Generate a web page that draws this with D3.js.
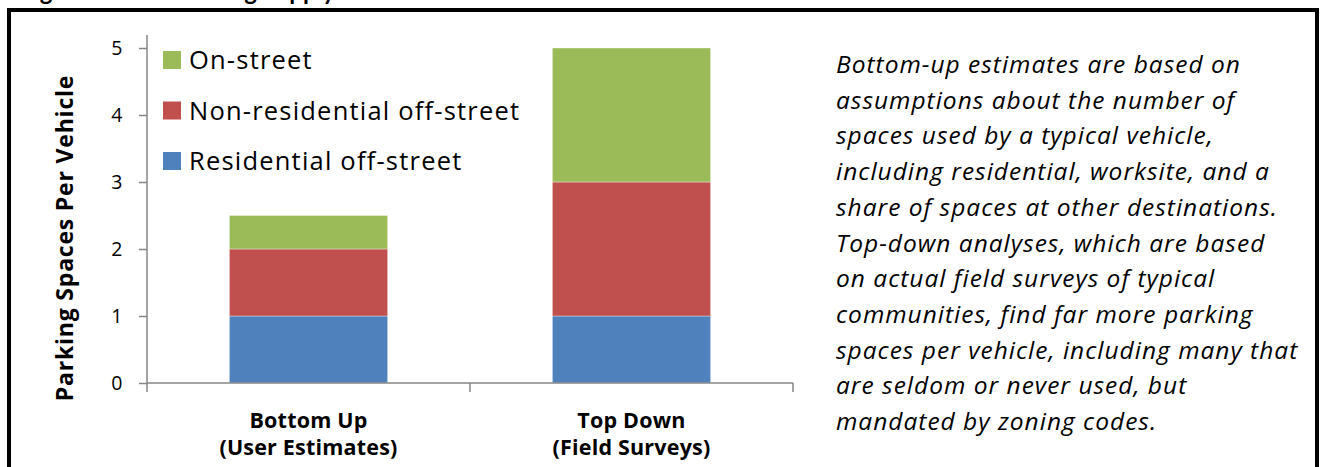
<!DOCTYPE html>
<html>
<head>
<meta charset="utf-8">
<script src="https://cdn.jsdelivr.net/npm/d3@7"></script>
<style>
  html, body { margin: 0; padding: 0; background: #fff; }
  svg { display: block; font-family: "Open Sans", Lato, sans-serif; }
</style>
</head>
<body>
<svg id="chart" width="1321" height="467"></svg>
<script>
// Stacked parking supply per vehicle, two estimation methods
const categories = ["Bottom Up", "Top Down"];
const categorySubtitles = ["(User Estimates)", "(Field Surveys)"];
const seriesNames = ["Residential off-street", "Non-residential off-street", "On-street"];
const residential = [1, 1];
const nonResidential = [1, 2];
const onStreet = [0.5, 2];
const yTicks = [0, 1, 2, 3, 4, 5];
const seriesColors = ["#4F81BD", "#C0504D", "#9BBB59"];
const noteLines = [
  "Bottom-up estimates are based on",
  "assumptions about the number of",
  "spaces used by a typical vehicle,",
  "including residential, worksite, and a",
  "share of spaces at other destinations.",
  "Top-down analyses, which are based",
  "on actual field surveys of typical",
  "communities, find far more parking",
  "spaces per vehicle, including many that",
  "are seldom or never used, but",
  "mandated by zoning codes."
];
const titleText = "Figure 1: Total Parking Supply";

const svg = d3.select("#chart");
const axisColor = "#868686";

// Frame around the figure
svg.append("rect")
  .attr("x", 9).attr("y", 10)
  .attr("width", 1308).attr("height", 480)
  .attr("fill", "none").attr("stroke", "#000").attr("stroke-width", 4);

// Figure title (runs off the top of the page)
svg.append("text")
  .attr("x", 20).attr("y", 0)
  .attr("font-family", "Lato, sans-serif")
  .attr("font-weight", "bold").attr("font-size", 24)
  .text(titleText);

const plot = { left: 147, right: 793, top: 48, bottom: 383 };

const x = d3.scaleBand()
  .domain(categories)
  .range([plot.left, plot.right])
  .paddingInner(0.51)
  .paddingOuter(0.255);

const y = d3.scaleLinear()
  .domain([0, 5])
  .range([plot.bottom, plot.top]);

// Build stacked rows
const rows = categories.map((c, i) => ({
  category: c,
  [seriesNames[0]]: residential[i],
  [seriesNames[1]]: nonResidential[i],
  [seriesNames[2]]: onStreet[i]
}));
const stacked = d3.stack().keys(seriesNames)(rows);
const color = d3.scaleOrdinal().domain(seriesNames).range(seriesColors);

// Bars
svg.append("g")
  .selectAll("g")
  .data(stacked)
  .join("g")
  .attr("fill", d => color(d.key))
  .selectAll("rect")
  .data(d => d)
  .join("rect")
  .attr("x", d => x(d.data.category))
  .attr("width", x.bandwidth())
  .attr("y", d => y(d[1]))
  .attr("height", d => y(d[0]) - y(d[1]))
  .attr("stroke", "#ffffff")
  .attr("stroke-opacity", 0.45)
  .attr("stroke-width", 0.8);

// Y axis
const yAxis = svg.append("g")
  .attr("transform", `translate(${plot.left},0)`)
  .call(d3.axisLeft(y).tickValues(yTicks).tickSize(8).tickPadding(16).tickFormat(d3.format("d")));
yAxis.select(".domain").remove();
yAxis.selectAll(".tick line").attr("stroke", axisColor).attr("stroke-width", 1.5);
yAxis.selectAll(".tick text")
  .attr("font-family", "'Open Sans', sans-serif")
  .attr("font-size", 19.5).attr("fill", "#000")
  .attr("letter-spacing", 0.5);
yAxis.append("line")
  .attr("x1", 0).attr("x2", 0)
  .attr("y1", y(0)).attr("y2", y(5) - 13)
  .attr("stroke", axisColor).attr("stroke-width", 1.5);

// X axis baseline with ticks at category boundaries
const xAxis = svg.append("g");
xAxis.append("line")
  .attr("x1", plot.left).attr("x2", plot.right)
  .attr("y1", y(0)).attr("y2", y(0))
  .attr("stroke", axisColor).attr("stroke-width", 1.5);
const boundaries = d3.range(categories.length + 1).map(i => plot.left + i * x.step());
xAxis.selectAll("line.tick")
  .data(boundaries)
  .join("line")
  .attr("class", "tick")
  .attr("x1", d => d).attr("x2", d => d)
  .attr("y1", y(0)).attr("y2", y(0) + 9)
  .attr("stroke", axisColor).attr("stroke-width", 1.5);

// Category labels, two lines each
xAxis.selectAll("text.cat")
  .data(categories)
  .join("text")
  .attr("class", "cat")
  .attr("text-anchor", "middle")
  .attr("font-weight", "bold")
  .attr("font-size", 21.5)
  .attr("letter-spacing", 0.2)
  .attr("x", d => x(d) + x.bandwidth() / 2)
  .attr("y", 428)
  .text(d => d);
xAxis.selectAll("text.sub")
  .data(categorySubtitles)
  .join("text")
  .attr("class", "sub")
  .attr("text-anchor", "middle")
  .attr("font-weight", "bold")
  .attr("font-size", 21.5)
  .attr("letter-spacing", 0.2)
  .attr("x", (d, i) => x(categories[i]) + x.bandwidth() / 2)
  .attr("y", 455)
  .text(d => d);

// Y axis title
svg.append("text")
  .attr("transform", `translate(73,238) rotate(-90)`)
  .attr("text-anchor", "middle")
  .attr("font-weight", "bold")
  .attr("font-size", 23)
  .attr("letter-spacing", 0.8)
  .text("Parking Spaces Per Vehicle");

// Legend (top series first)
const legend = svg.append("g")
  .selectAll("g")
  .data(seriesNames.slice().reverse())
  .join("g")
  .attr("transform", (d, i) => `translate(163,${51 + i * 50.5})`);
legend.append("rect")
  .attr("width", 18).attr("height", 18)
  .attr("fill", d => color(d));
legend.append("text")
  .attr("x", 26).attr("y", 9)
  .attr("dy", "0.36em")
  .attr("font-size", 25.5)
  .attr("letter-spacing", 1.2)
  .text(d => d);

// Explanatory note
svg.append("g")
  .selectAll("text")
  .data(noteLines)
  .join("text")
  .attr("x", 836)
  .attr("y", (d, i) => 73 + i * 35.7)
  .attr("font-style", "italic")
  .attr("font-size", 24.5)
  .attr("letter-spacing", 1.0)
  .text(d => d);
</script>
</body>
</html>
